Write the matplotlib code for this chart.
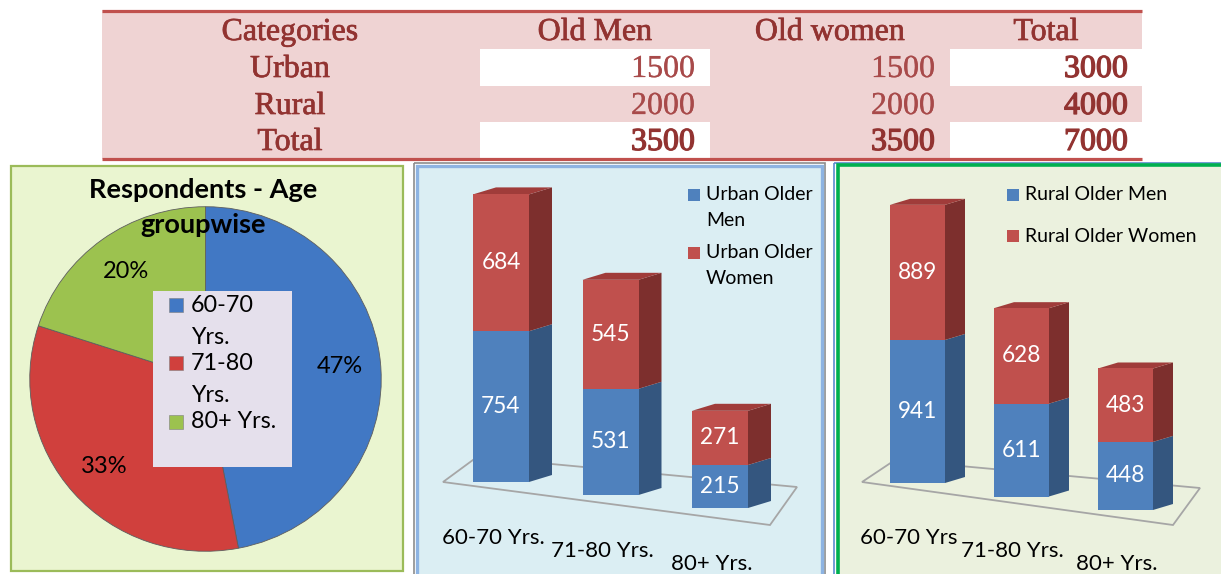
import matplotlib
matplotlib.use('Agg')
import matplotlib.pyplot as plt
from matplotlib.patches import Rectangle, Polygon
import matplotlib.patheffects as pe

# ---------------- data ----------------
table_header = ['Categories', 'Old Men', 'Old women', 'Total']
row_labels = ['Urban', 'Rural', 'Total']
old_men = [1500, 2000, 3500]
old_women = [1500, 2000, 3500]
row_totals = [3000, 4000, 7000]

pie_title = 'Respondents - Age\ngroupwise'
pie_labels = ['60-70\nYrs.', '71-80\nYrs.', '80+ Yrs.']
pie_pct = [47, 33, 20]

urban_ticks = ['60-70 Yrs.', '71-80 Yrs.', '80+ Yrs.']
urban_men = [754, 531, 215]
urban_women = [684, 545, 271]
urban_legend = ['Urban Older\nMen', 'Urban Older\nWomen']

rural_ticks = ['60-70 Yrs', '71-80 Yrs.', '80+ Yrs.']
rural_men = [941, 611, 448]
rural_women = [889, 628, 483]
rural_legend = ['Rural Older Men', 'Rural Older Women']

# ---------------- style ----------------
W, H = 1221, 574
SANS = ['Lato', 'DejaVu Sans']
SERIF = ['Liberation Serif', 'DejaVu Serif']
TAB_RED = '#923331'
TAB_LIGHT = '#A84A4A'
BLUE, BLUE_SIDE = '#4F81BD', '#34567F'
RED, RED_SIDE, RED_TOP = '#C0504D', '#7D2F2D', '#A03C3A'
PIE_COLORS = ['#4178C4', '#D0403D', '#9CC24F']


def frac(x0, y0, x1, y1):
    return [x0 / W, 1 - y1 / H, (x1 - x0) / W, (y1 - y0) / H]


def bold_fx(color, lw):
    return [pe.withStroke(linewidth=lw, foreground=color)]


fig = plt.figure(figsize=(W / 100, H / 100), dpi=100)
page = fig.add_axes([0, 0, 1, 1])
page.set_xlim(0, W)
page.set_ylim(H, 0)
page.axis('off')

# ---------------- table ----------------
page.add_patch(Rectangle((102, 10), 1040, 149, fc='#EFD3D3', ec='none'))
row_top = [49, 86, 122]
row_h = 36.5
for r in (0, 2):
    page.add_patch(Rectangle((480, row_top[r]), 230, row_h, fc='white', ec='none'))
    page.add_patch(Rectangle((950, row_top[r]), 192, row_h, fc='white', ec='none'))
page.plot([102, 1142], [10.5, 10.5], color='#C0504D', lw=2.3, solid_capstyle='butt')
page.plot([102, 1142], [159, 159], color='#C0504D', lw=2.3, solid_capstyle='butt')

fs_tab = 23
head_x = [290, 595, 830, 1046]
for x, t in zip(head_x, table_header):
    page.text(x, 40, t, ha='center', va='baseline', fontsize=fs_tab,
              family=SERIF, color=TAB_RED, path_effects=bold_fx(TAB_RED, 0.5))
baselines = [77, 114, 150]
for r, lab in enumerate(row_labels):
    b = baselines[r]
    dark = (r == 2)
    page.text(290, b, lab, ha='center', va='baseline', fontsize=fs_tab,
              family=SERIF, color=TAB_RED, path_effects=bold_fx(TAB_RED, 0.5))
    for x, v in ((695, old_men[r]), (935, old_women[r])):
        c = TAB_RED if dark else TAB_LIGHT
        page.text(x, b, str(v), ha='right', va='baseline', fontsize=fs_tab,
                  family=SERIF, color=c, path_effects=bold_fx(c, 0.9 if dark else 0.2))
    page.text(1128, b, str(row_totals[r]), ha='right', va='baseline', fontsize=fs_tab,
              family=SERIF, color=TAB_RED, path_effects=bold_fx(TAB_RED, 0.9))

# ---------------- panel frames ----------------
page.add_patch(Rectangle((11, 166), 392, 405, fc='#EAF5D0', ec='#9BBB59', lw=1.6))
page.add_patch(Rectangle((414, 163), 411, 413, fc='none', ec='#8C8C8C', lw=1.2))
page.add_patch(Rectangle((417, 166), 405, 410, fc='#DBEEF3', ec='#8DB3E2', lw=2.4))
page.add_patch(Rectangle((834, 163), 390, 413, fc='none', ec='#5B8BD0', lw=1.2))
page.add_patch(Rectangle((838, 165), 386, 411, fc='#EBF1DE', ec='#00B050', lw=2.6))

# ---------------- pie ----------------
pax = fig.add_axes(frac(28, 205, 383, 553))
wedges, _, autotexts = pax.pie(
    pie_pct, colors=PIE_COLORS, startangle=90, counterclock=False,
    autopct='%d%%', pctdistance=0.77,
    wedgeprops=dict(edgecolor='#5E5E5E', linewidth=0.6),
    textprops=dict(fontsize=17, family=SANS, color='black'))
pax.set_xlim(-1.01, 1.01)
pax.set_ylim(-1.01, 1.01)
pax.set_aspect('auto')
pax.patch.set_alpha(0)

overlay = fig.add_axes([0, 0, 1, 1])
overlay.set_xlim(0, W)
overlay.set_ylim(H, 0)
overlay.axis('off')
overlay.patch.set_alpha(0)

title_lines = pie_title.split('\n')
for k, line in enumerate(title_lines):
    overlay.text(203, 190 + 35 * k, line, ha='center', va='center', fontsize=19.5,
                 family=SANS, fontweight='bold', color='black')

overlay.add_patch(Rectangle((153, 291), 139, 176, fc='#E5E0EC', ec='none'))
leg_first = [305, 363, 422]
for i, lab in enumerate(pie_labels):
    y = leg_first[i]
    overlay.add_patch(Rectangle((169, y - 7), 14, 14, fc=PIE_COLORS[i], ec='#7F7F7F', lw=0.4))
    for k, line in enumerate(lab.split('\n')):
        overlay.text(191, y + 33 * k, line, ha='left', va='center', fontsize=16.8,
                     family=SANS, color='black')


# ---------------- 3-D looking stacked bars ----------------
def bar_panel(rect, men, women, ticks, legend, geo):
    x0, xs, y0, ppu = geo['x0'], geo['xstep'], geo['y0'], geo['ppu']
    X = lambda px: (px - x0) / xs
    Y = lambda py: (y0 - py) / ppu
    ax = fig.add_axes(frac(*rect))
    ax.set_xlim(X(rect[0]), X(rect[2]))
    ax.set_ylim(Y(rect[3]), Y(rect[1]))
    ax.axis('off')
    ax.patch.set_alpha(0)

    # floor outline
    fl = [(X(px), Y(py)) for px, py in geo['floor']]
    ax.add_patch(Polygon(fl, closed=True, fc='none', ec='#A6A6A6', lw=1.3, zorder=1))

    width = geo['w'] / xs
    dx = geo['dx'] / xs
    dy = geo['dy'] / ppu
    xpos = list(range(len(men)))
    for i in xpos:
        base = -i * geo['drop'] / ppu
        m, w = men[i], women[i]
        right = i + width / 2
        left = i - width / 2
        top = base + m + w
        ax.add_patch(Polygon([(right, base), (right + dx, base + dy),
                              (right + dx, base + m + dy), (right, base + m)],
                             fc=BLUE_SIDE, ec='none', zorder=2))
        ax.add_patch(Polygon([(right, base + m), (right + dx, base + m + dy),
                              (right + dx, top + dy), (right, top)],
                             fc=RED_SIDE, ec='none', zorder=2))
        ax.add_patch(Polygon([(left, top), (right, top), (right + dx, top + dy),
                              (left + dx, top + dy)], fc=RED_TOP, ec='none', zorder=2))
        ax.bar(i, m, width, bottom=base, color=BLUE, zorder=3)
        ax.bar(i, w, width, bottom=base + m, color=RED, zorder=3)
        ax.text(i, base + m / 2, str(m), ha='center', va='center', color='white',
                fontsize=16.3, family=SANS, zorder=4)
        ax.text(i, base + m + w / 2, str(w), ha='center', va='center', color='white',
                fontsize=16.3, family=SANS, zorder=4)
        tx = X(x0 + i * xs + geo['tick_dx'])
        ty = Y(geo['tick_y0'] + i * geo['tick_dy'])
        ax.text(tx, ty, ticks[i], ha='center', va='center', fontsize=16,
                family=SANS, color='black', clip_on=False)

    lx, ly, lgap, lline = geo['leg']
    cols = [BLUE, RED]
    for j, lab in enumerate(legend):
        yc = ly + j * lgap
        overlay.add_patch(Rectangle((lx, yc - 6), 12, 12, fc=cols[j], ec='none'))
        for k, line in enumerate(lab.split('\n')):
            overlay.text(lx + 18, yc + k * lline, line, ha='left', va='center',
                         fontsize=14, family=SANS, color='black')
    return ax


urban_geo = dict(x0=501, xstep=109.5, y0=482, ppu=0.2, drop=13, w=56, dx=23, dy=7,
                 floor=[(443, 482), (477, 457), (797, 487), (770, 525)],
                 tick_dx=-8, tick_y0=538, tick_dy=13,
                 leg=(688, 195, 58, 26))
rural_geo = dict(x0=917.5, xstep=104, y0=483, ppu=0.152, drop=13.5, w=55, dx=20, dy=6,
                 floor=[(862, 482), (895, 460), (1200, 488), (1173, 525)],
                 tick_dx=-9, tick_y0=538, tick_dy=13,
                 leg=(1007, 195, 41, 26))

bar_panel((418, 167, 821, 574), urban_men, urban_women, urban_ticks, urban_legend, urban_geo)
bar_panel((839, 166, 1219, 574), rural_men, rural_women, rural_ticks, rural_legend, rural_geo)

fig.savefig('out.png', dpi=100)
